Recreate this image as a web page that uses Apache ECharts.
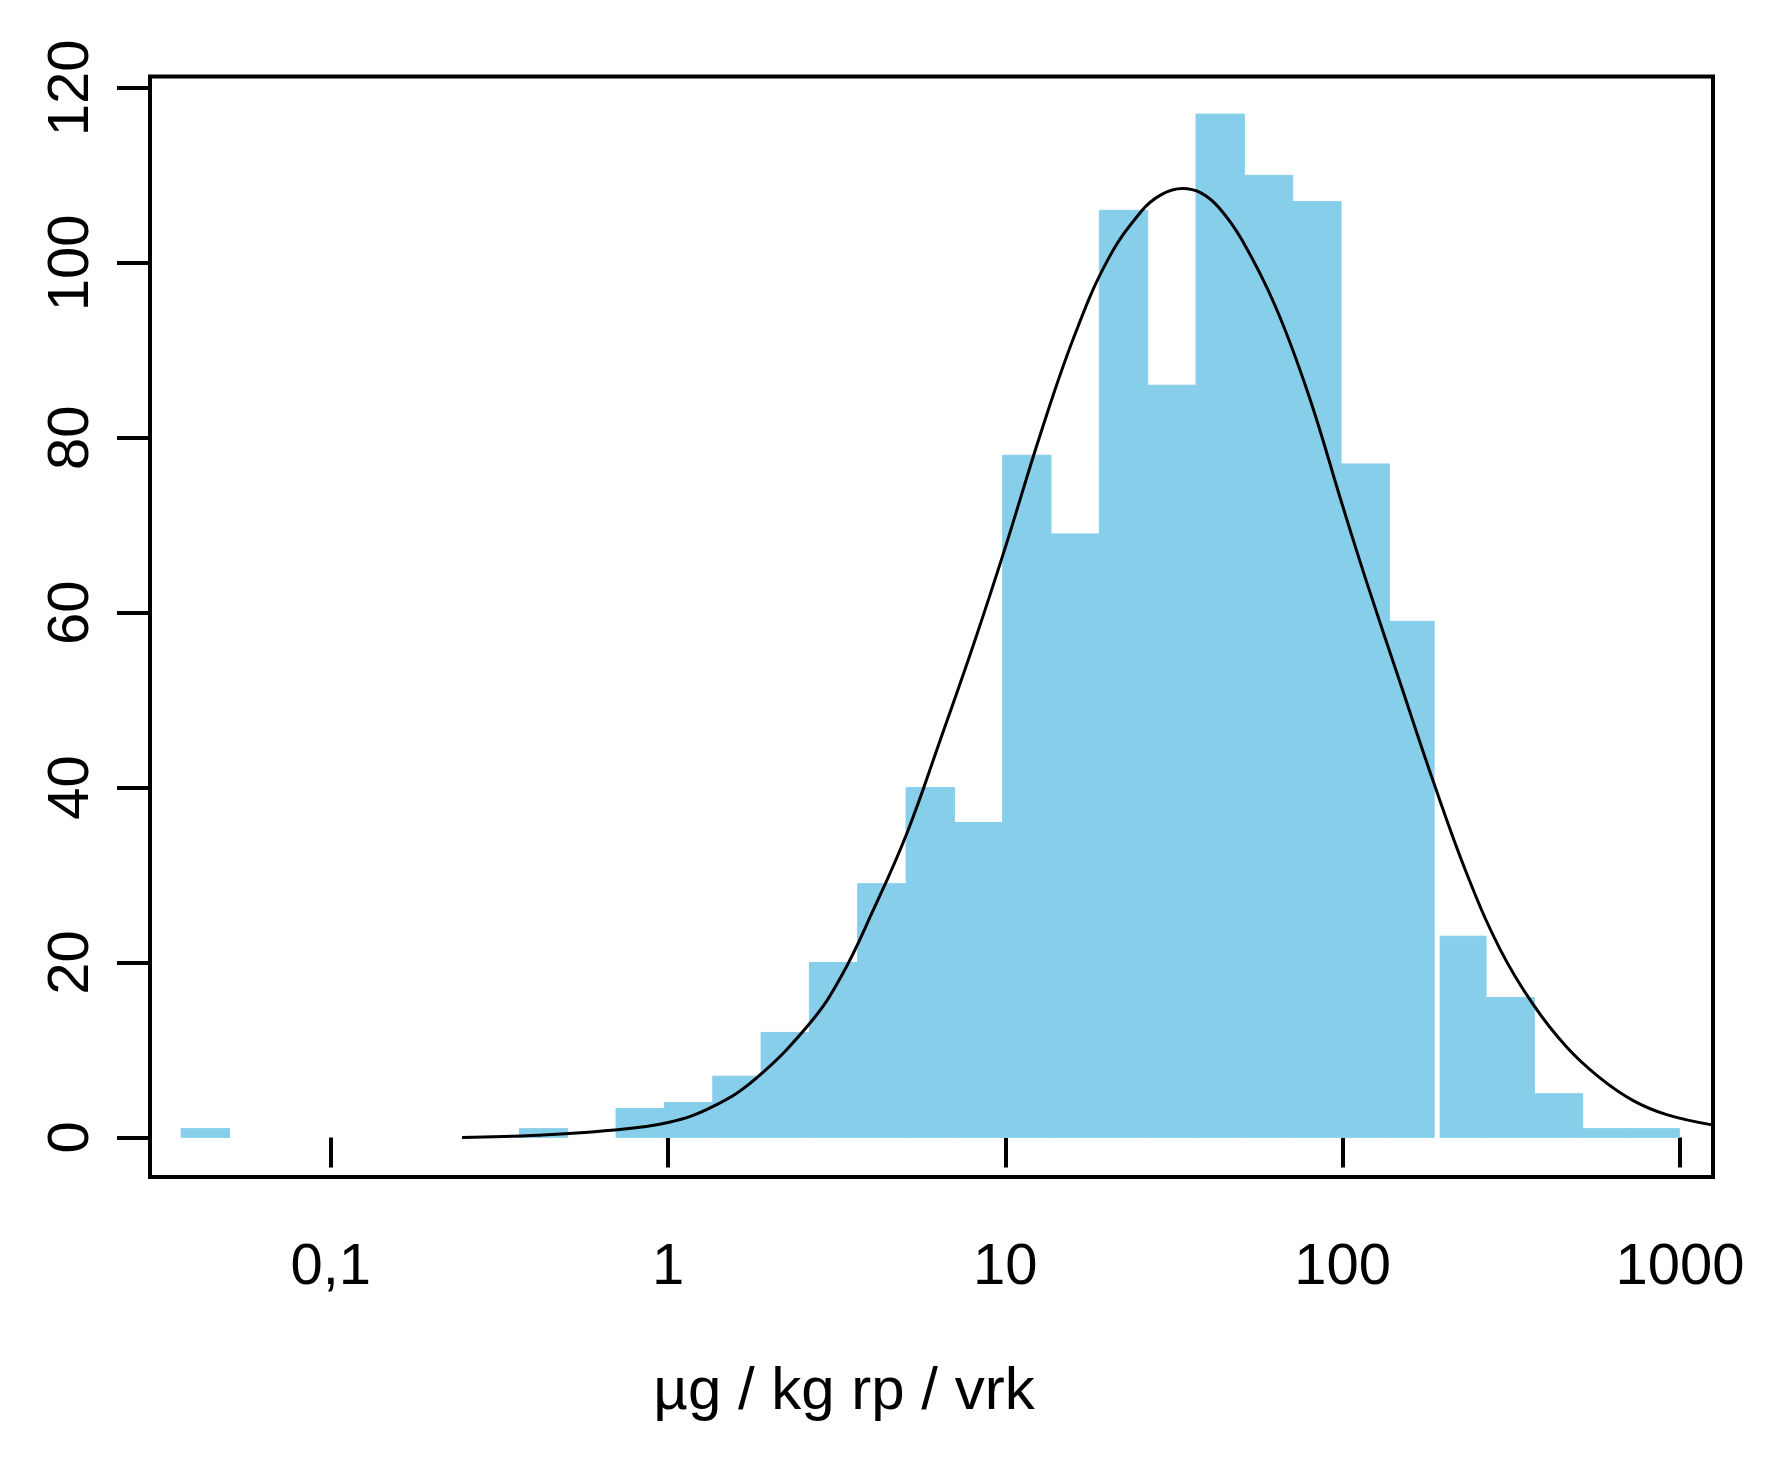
<!DOCTYPE html>
<html>
<head>
<meta charset="utf-8">
<script src="https://cdn.jsdelivr.net/npm/echarts@6/dist/echarts.min.js"></script>
<style>
  html, body { margin: 0; padding: 0; background: #fff; }
  #chart { width: 1787px; height: 1478px; }
</style>
</head>
<body>
<div id="chart"></div>
<script>
  // histogram bins on a log scale (edges in µg / kg rp / vrk)
  let binEdges = [0.0360, 0.0501, 0.0697, 0.0969, 0.1347, 0.1874, 0.2606, 0.3624, 0.5041, 0.7011,
    0.9752, 1.357, 1.887, 2.624, 3.650, 5.077, 7.062, 9.820, 13.66, 19.00,
    26.42, 36.75, 51.12, 71.10, 98.90, 137.6, 191.3, 266.1, 370.1, 514.8,
    716.0, 995.9]
  let counts = [1, 0, 0, 0, 0, 0, 0, 1, 0, 3.3,
    4, 7, 12, 20, 29, 40, 36, 78, 69, 106,
    86, 117, 110, 107, 77, 59, 23, 16, 5, 1,
    1]
  // white split seen in the picture at one bin edge
  let gapEdgeIndex = [26]

  // fitted curve
  let curveX = [0.245, 0.41, 0.65, 1.0, 1.37, 1.83, 2.64, 3.25, 4.06, 5.11,
    6.42, 8.07, 9.91, 12.75, 16.0, 20.1, 25.3, 29.0, 33.5, 38.0,
    43.0, 50.3, 63.2, 79.4, 99.8, 118, 148, 186, 233, 293,
    367, 462, 579, 727, 913, 1256]
  let curveY = [0, 0.25, 0.75, 1.7, 3.6, 6.8, 13.1, 18.3, 26.0, 34.8,
    45.5, 56.5, 67.0, 80.6, 91.6, 100.3, 105.9, 107.8, 108.5, 108.0,
    106.3, 102.6, 95.0, 84.8, 72.3, 63.4, 52.0, 40.6, 30.2, 21.5,
    15.2, 10.3, 6.8, 4.2, 2.6, 1.4]

  let xTicks = [0.1, 1, 10, 100, 1000]
  let xTickLabels = ['0,1', '1', '10', '100', '1000']
  let yTicks = [0, 20, 40, 60, 80, 100, 120]
  let xTitle = 'µg / kg rp / vrk'

  let font = "'Liberation Sans', Arial, sans-serif"
  let barColor = '#87CEEB'

  let bars = []
  counts.forEach((c, i) => {
    if (c > 0) bars.push([binEdges[i], binEdges[i + 1], c])
  })
  let gaps = gapEdgeIndex.map(k => [binEdges[k], Math.max(counts[k - 1], counts[k])])
  let curve = curveX.map((x, i) => [x, curveY[i]])

  let myChart = echarts.init(document.getElementById('chart'))
  let option = {
    backgroundColor: '#fff',
    animation: false,
    grid: {
      left: 150,
      top: 76.5,
      width: 1563,
      height: 1100.5,
      show: true,
      borderColor: '#000',
      borderWidth: 4,
      backgroundColor: 'transparent'
    },
    xAxis: {
      type: 'log',
      logBase: 10,
      min: 0.02911,
      max: 1253,
      axisLine: { show: false },
      splitLine: { show: false },
      minorTick: { show: false },
      axisTick: {
        show: true,
        length: 30,
        customValues: xTicks,
        lineStyle: { color: '#000', width: 4 }
      },
      axisLabel: {
        customValues: xTicks,
        margin: 62,
        fontSize: 58,
        fontFamily: font,
        color: '#000',
        formatter: function (v) {
          let i = xTicks.findIndex(t => Math.abs(Math.log10(t) - Math.log10(v)) < 1e-6)
          return i >= 0 ? xTickLabels[i] : ''
        }
      }
    },
    yAxis: {
      type: 'value',
      min: -4.53,
      max: 121.3,
      axisLine: { show: false },
      splitLine: { show: false },
      axisTick: {
        show: true,
        length: 33,
        customValues: yTicks,
        lineStyle: { color: '#000', width: 4 }
      },
      axisLabel: {
        customValues: yTicks,
        rotate: 90,
        margin: 49,
        fontSize: 58,
        fontFamily: font,
        color: '#000'
      }
    },
    graphic: [{
      type: 'text',
      x: 844,
      y: 1392,
      style: {
        text: xTitle,
        fontSize: 60,
        fontFamily: font,
        fill: '#000',
        align: 'center',
        verticalAlign: 'middle'
      }
    }],
    series: [
      {
        type: 'custom',
        name: 'bins',
        data: bars,
        encode: { x: [0, 1], y: 2 },
        clip: true,
        renderItem: function (params, api) {
          let p0 = api.coord([api.value(0), 0])
          let p1 = api.coord([api.value(1), api.value(2)])
          return {
            type: 'rect',
            shape: { x: p0[0], y: p1[1], width: p1[0] - p0[0], height: p0[1] - p1[1] },
            style: { fill: barColor, stroke: barColor, lineWidth: 1 }
          }
        },
        z: 1
      },
      {
        type: 'custom',
        name: 'gap',
        data: gaps,
        encode: { x: 0, y: 1 },
        renderItem: function (params, api) {
          let p0 = api.coord([api.value(0), 0])
          let p1 = api.coord([api.value(0), api.value(1)])
          return {
            type: 'rect',
            shape: { x: p0[0] - 3, y: p1[1] - 1, width: 5, height: p0[1] - p1[1] + 2 },
            style: { fill: '#fff' }
          }
        },
        z: 2
      },
      {
        type: 'line',
        name: 'fit',
        data: curve,
        showSymbol: false,
        smooth: 0.4,
        clip: true,
        lineStyle: { color: '#000', width: 3 },
        z: 3
      }
    ]
  }
  myChart.setOption(option)
</script>
</body>
</html>
